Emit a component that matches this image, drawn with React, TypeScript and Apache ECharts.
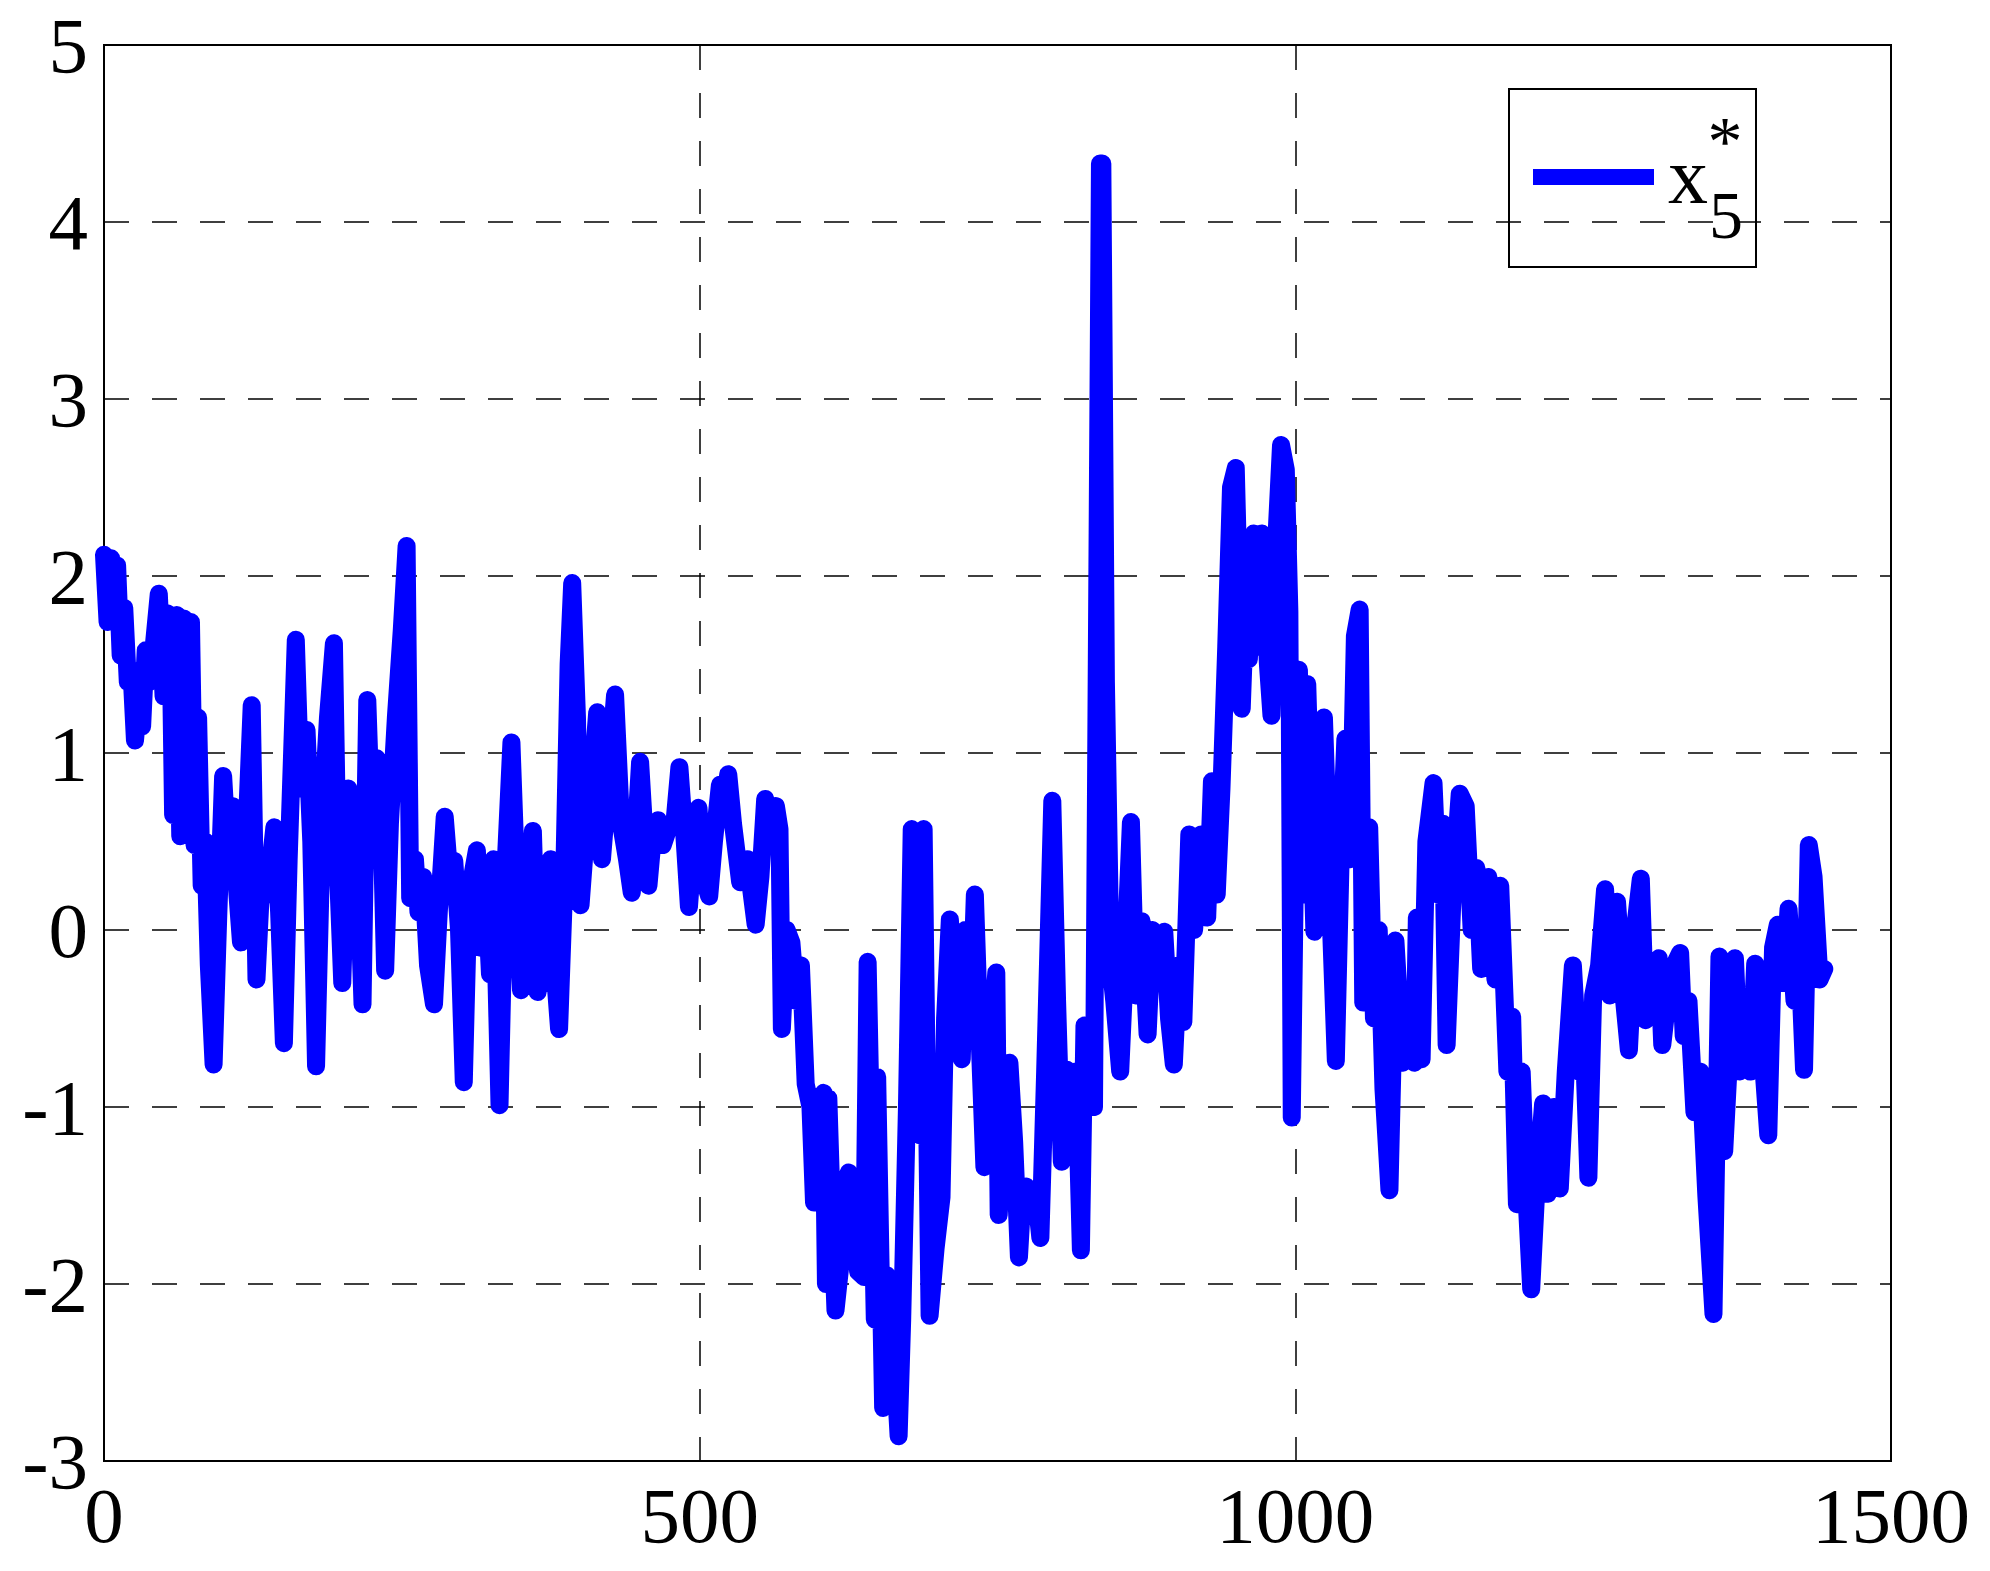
import React, { useEffect, useRef } from "react";
import * as echarts from "echarts";

// Sample positions (time index)
const sampleX = [
  0, 3, 6, 9, 11, 14, 17, 20, 23, 26,
  29, 32, 35, 38, 42, 46, 50, 53, 56, 58,
  61, 64, 67, 70, 73, 76, 79, 82, 85, 88,
  92, 96, 100, 104, 108, 112, 115, 119, 124, 128,
  133, 137, 143, 147, 151, 155, 161, 165, 170, 174,
  178, 183, 188, 193, 196, 200, 205, 209, 213, 217,
  221, 225, 229, 233, 236, 240, 245, 250, 254, 257,
  261, 264, 268, 272, 277, 281, 286, 290, 294, 298,
  302, 306, 309, 313, 316, 320, 324, 327, 332, 336,
  342, 346, 350, 355, 360, 364, 368, 371, 375, 378,
  382, 386, 390, 393, 397, 400, 404, 409, 414, 418,
  424, 429, 434, 439, 443, 447, 450, 454, 457, 461,
  465, 469, 475, 479, 483, 487, 491, 495, 499, 503,
  508, 512, 517, 520, 524, 528, 534, 540, 547, 551,
  555, 560, 564, 567, 569, 573, 577, 581, 585, 589,
  593, 596, 600, 604, 606, 608, 611, 614, 618, 621,
  625, 629, 633, 638, 641, 644, 647, 649, 654, 657,
  660, 664, 667, 670, 674, 678, 682, 685, 688, 693,
  698, 703, 706, 710, 715, 720, 723, 727, 731, 735,
  739, 744, 749, 751, 756, 760, 764, 768, 771, 774,
  779, 783, 786, 790, 796, 800, 804, 808, 812, 816,
  820, 823, 827, 831, 836, 838, 841, 845, 848, 853,
  857, 862, 866, 871, 876, 880, 885, 890, 894, 898,
  902, 906, 911, 915, 921, 926, 930, 934, 938, 942,
  946, 950, 955, 959, 961, 965, 968, 972, 977, 980,
  984, 988, 992, 995, 997, 1000, 1003, 1007, 1010, 1016,
  1020, 1024, 1029, 1034, 1038, 1042, 1046, 1050, 1054, 1057,
  1062, 1066, 1070, 1074, 1079, 1084, 1090, 1095, 1100, 1102,
  1106, 1110, 1116, 1120, 1124, 1127, 1132, 1138, 1143, 1148,
  1152, 1156, 1162, 1168, 1172, 1178, 1182, 1186, 1190, 1194,
  1198, 1202, 1208, 1212, 1217, 1222, 1227, 1233, 1238, 1242,
  1246, 1250, 1255, 1260, 1264, 1270, 1276, 1280, 1285, 1290,
  1294, 1300, 1305, 1308, 1314, 1318, 1323, 1326, 1330, 1335,
  1340, 1345, 1351, 1356, 1360, 1365, 1369, 1373, 1378, 1382,
  1386, 1390, 1397, 1401, 1405, 1410, 1414, 1419, 1424, 1427,
  1431, 1435, 1440, 1444,
];

// Values of x5* at those positions
const sampleY = [
  2.12, 1.74, 2.10, 1.80, 2.06, 1.55, 1.82, 1.40, 1.47, 1.07,
  1.30, 1.15, 1.58, 1.40, 1.62, 1.90, 1.32, 1.79, 1.60, 0.65,
  1.78, 0.53, 1.76, 0.55, 1.74, 0.48, 1.20, 0.25, 0.50, -0.20,
  -0.76, 0.10, 0.87, 0.40, 0.70, 0.20, -0.07, 0.45, 1.27, -0.28,
  0.40, 0.20, 0.58, 0.10, -0.64, 0.40, 1.64, 0.80, 1.13, 0.50,
  -0.77, 0.60, 1.20, 1.62, 0.40, -0.30, 0.80, 0.00, 0.40, -0.42,
  1.30, 0.50, 0.97, 0.60, -0.23, 0.60, 1.20, 1.70, 2.17, 0.18,
  0.40, 0.10, 0.30, -0.20, -0.42, 0.10, 0.64, 0.30, 0.39, 0.00,
  -0.86, 0.20, 0.30, 0.45, -0.10, 0.30, -0.25, 0.40, -0.99, 0.20,
  1.06, 0.30, -0.34, 0.10, 0.56, -0.35, 0.20, -0.30, 0.40, -0.20,
  -0.56, 0.20, 1.50, 1.96, 1.20, 0.14, 0.50, 0.80, 1.23, 0.40,
  0.90, 1.33, 0.60, 0.40, 0.21, 0.60, 0.95, 0.50, 0.25, 0.55,
  0.62, 0.48, 0.60, 0.62, 0.92, 0.55, 0.13, 0.50, 0.69, 0.30,
  0.19, 0.50, 0.82, 0.70, 0.88, 0.60, 0.27, 0.40, 0.03, 0.30,
  0.74, 0.60, 0.70, 0.57, -0.56, 0.00, -0.07, -0.40, -0.20, -0.87,
  -1.00, -1.54, -1.20, -0.92, -2.00, -0.95, -1.60, -2.15, -1.90, -1.50,
  -1.37, -1.50, -1.93, -1.96, -0.18, -1.20, -2.20, -0.83, -2.70, -1.95,
  -2.00, -2.50, -2.86, -2.20, -1.00, 0.57, -0.20, -1.16, 0.57, -2.18,
  -1.80, -1.51, -0.50, 0.06, -0.40, -0.73, 0.00, -0.61, 0.20, -0.61,
  -1.34, -0.70, -0.24, -1.61, -1.00, -0.75, -1.20, -1.85, -1.50, -1.45,
  -1.60, -1.55, -1.74, -0.80, 0.73, -0.40, -1.31, -0.79, -0.90, -0.80,
  -1.81, -0.54, -0.90, -1.00, 4.33, 4.33, 1.40, -0.21, -0.40, -0.80,
  -0.20, 0.61, -0.37, 0.05, -0.59, 0.00, -0.30, -0.01, -0.50, -0.76,
  -0.20, -0.52, 0.54, 0.00, 0.54, 0.07, 0.84, 0.20, 0.80, 1.60,
  2.50, 2.61, 1.25, 2.00, 1.53, 2.24, 1.60, 2.24, 1.50, 1.21,
  2.20, 2.74, 2.60, 1.80, -1.06, 0.50, 1.47, 0.20, 1.39, -0.01,
  0.80, 1.20, 0.20, -0.74, 0.40, 1.08, 0.40, 1.66, 1.81, -0.41,
  0.58, -0.50, 0.00, -0.90, -1.47, -0.06, -0.75, -0.40, -0.75, 0.07,
  -0.73, 0.50, 0.83, 0.20, 0.60, -0.65, 0.20, 0.77, 0.70, 0.00,
  0.35, -0.22, 0.30, -0.28, 0.25, -0.80, -0.49, -1.55, -0.80, -1.50,
  -2.03, -1.50, -0.98, -1.49, -1.00, -1.46, -0.80, -0.20, -0.80, -0.60,
  -1.40, -0.37, -0.20, 0.23, -0.37, 0.16, -0.40, -0.68, 0.00, 0.29,
  -0.51, -0.30, -0.16, -0.65, -0.30, -0.20, -0.13, -0.60, -0.40, -1.03,
  -0.80, -1.50, -2.17, -0.15, -1.25, -0.60, -0.16, -0.80, -0.40, -0.80,
  -0.19, -0.50, -1.16, -0.10, 0.03, -0.30, 0.12, -0.40, -0.30, -0.79,
  0.48, 0.30, -0.28, -0.22,
];

const xRange = [0, 1500];
const xStep = 500;
const yRange = [-3, 5];
const yStep = 1;
const legendMain = "x";
const legendSub = "5";
const legendSup = "*";

const FONT = '"Liberation Serif", "Times New Roman", serif';

export default function App() {
  const ref = useRef<HTMLDivElement>(null);

  useEffect(() => {
    if (!ref.current) return;
    const chart = echarts.init(ref.current, null, { renderer: "svg" });
    const n = Math.min(sampleX.length, sampleY.length);
    const data: number[][] = [];
    for (let i = 0; i < n; i++) data.push([sampleX[i], sampleY[i]]);

    const gridLine = { color: "#000", width: 1.5, type: [25, 23] as any };
    const labelStyle = { fontFamily: FONT, fontSize: 79, color: "#000" };

    chart.setOption({
      animation: false,
      backgroundColor: "#ffffff",
      grid: {
        left: 104,
        top: 45,
        width: 1787,
        height: 1416,
        show: true,
        borderColor: "#000",
        borderWidth: 2,
        backgroundColor: "transparent",
        containLabel: false,
      },
      xAxis: {
        type: "value",
        min: xRange[0],
        max: xRange[1],
        interval: xStep,
        axisLine: { show: false },
        axisTick: { show: false },
        splitLine: { show: true, lineStyle: gridLine },
        axisLabel: {
          ...labelStyle,
          margin: 15,
          showMinLabel: true,
          showMaxLabel: true,
          formatter: (v: number) => String(v),
        },
      },
      yAxis: {
        type: "value",
        min: yRange[0],
        max: yRange[1],
        interval: yStep,
        axisLine: { show: false },
        axisTick: { show: false },
        splitLine: { show: true, lineStyle: gridLine },
        axisLabel: {
          ...labelStyle,
          margin: 16,
          showMinLabel: true,
          showMaxLabel: true,
          formatter: (v: number) => String(v),
        },
      },
      series: [
        {
          type: "line",
          name: "x5*",
          data,
          showSymbol: false,
          symbol: "none",
          clip: true,
          lineStyle: { color: "#0000ff", width: 18, cap: "round", join: "round" },
          emphasis: { disabled: true },
        },
      ],
      graphic: [
        {
          type: "group",
          z: 100,
          children: [
            {
              type: "rect",
              shape: { x: 1509, y: 89, width: 247, height: 178 },
              style: { fill: "#fff", stroke: "#000", lineWidth: 2 },
            },
            {
              type: "line",
              shape: { x1: 1533, y1: 177, x2: 1654, y2: 177 },
              style: { stroke: "#0000ff", lineWidth: 16 },
            },
            {
              type: "text",
              x: 1668,
              y: 176,
              style: { text: legendMain, font: `80px ${FONT}`, fill: "#000", align: "left", verticalAlign: "middle" },
            },
            {
              type: "text",
              x: 1709,
              y: 215,
              style: { text: legendSub, font: `68px ${FONT}`, fill: "#000", align: "left", verticalAlign: "middle" },
            },
            {
              type: "text",
              x: 1725,
              y: 141,
              style: { text: legendSup, font: `70px ${FONT}`, fill: "#000", align: "center", verticalAlign: "middle" },
            },
          ],
        },
      ],
    });

    return () => {
      chart.dispose();
    };
  }, []);

  return (
    <div
      ref={ref}
      style={{ position: "fixed", left: 0, top: 0, width: 1990, height: 1571, background: "#fff" }}
    />
  );
}
